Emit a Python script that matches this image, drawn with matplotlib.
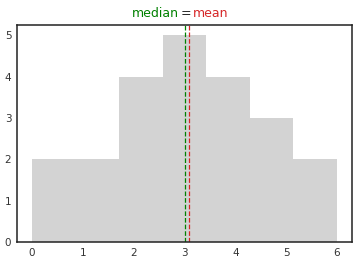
import numpy as np
import matplotlib.pyplot as plt

# sample values
values = [0, 0, 1, 1, 2, 2, 2, 2, 3, 3, 3, 3, 3, 4, 4, 4, 4, 5, 5, 5, 6, 6]
n_bins = 7

median = np.median(values)
mean = np.mean(values)

plt.rcParams['font.family'] = ['DejaVu Sans']

fig = plt.figure(figsize=(3.59, 2.63), dpi=100)
ax = fig.add_axes([0.047, 0.080, 0.934, 0.825])

ax.hist(values, bins=n_bins, color='lightgray')
ax.axvline(median, color='green', linestyle='--', linewidth=0.9)
ax.axvline(mean, color='tab:red', linestyle='--', linewidth=0.9)

ax.tick_params(length=0, labelsize=7.5, labelcolor='#333333', pad=4)
for s in ax.spines.values():
    s.set_color('#222222')
    s.set_linewidth(1.1)

# coloured title pieces
fig.text(0.497, 0.948, 'median', color='green', fontsize=9, ha='right', va='center')
fig.text(0.518, 0.948, '=', color='#222222', fontsize=9, ha='center', va='center')
fig.text(0.538, 0.948, 'mean', color='tab:red', fontsize=9, ha='left', va='center')

fig.savefig('out.png', dpi=100)
